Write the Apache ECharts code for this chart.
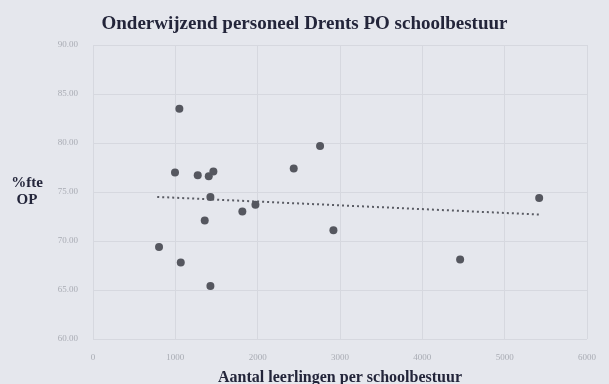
<!DOCTYPE html>
<html>
<head>
<meta charset="utf-8">
<script src="https://cdn.jsdelivr.net/npm/echarts@6/dist/echarts.min.js"></script>
<style>
  html, body { margin: 0; padding: 0; background: #e5e7ed; }
  #chart { width: 609px; height: 384px; }
</style>
</head>
<body>
<div id="chart"></div>
<script>
// Pupils per school board (x) and % fte teaching staff (y)
const leerlingen = [1049, 996, 1272, 1406, 1462, 1426, 1973, 1814, 1357, 802, 1066, 1426, 2438, 2758, 5419, 2920, 4459];
const fteOP      = [83.5, 77.0, 76.7, 76.6, 77.1, 74.5, 73.7, 73.0, 72.1, 69.4, 67.8, 65.4, 77.4, 79.7, 74.4, 71.1, 68.1];

// Linear trendline end points
const trendX = [780, 5420];
const trendY = [74.5, 72.7];

const xTicks = [0, 1000, 2000, 3000, 4000, 5000, 6000];
const yTicks = [60, 65, 70, 75, 80, 85, 90];

const points = leerlingen.map((x, i) => [x, fteOP[i]]);
const trend = trendX.map((x, i) => [x, trendY[i]]);

const serif = '"Liberation Serif", "DejaVu Serif", serif';
const dark = '#23253a';
const tickStyle = { color: '#a9acb4', fontFamily: serif, fontSize: 9 };

const chart = echarts.init(document.getElementById('chart'), null, { renderer: 'canvas' });
chart.setOption({
  backgroundColor: '#e5e7ed',
  animation: false,
  title: {
    text: 'Onderwijzend personeel Drents PO schoolbestuur',
    left: 'center',
    top: 10,
    textStyle: { fontFamily: serif, fontWeight: 'bold', fontSize: 19, color: dark }
  },
  grid: { left: 93, right: 22, top: 45, bottom: 45, outerBoundsMode: 'none', containLabel: false },
  xAxis: {
    type: 'value',
    min: xTicks[0],
    max: xTicks[xTicks.length - 1],
    interval: 1000,
    name: 'Aantal leerlingen per schoolbestuur',
    nameLocation: 'middle',
    nameGap: 31,
    nameTextStyle: { fontFamily: serif, fontWeight: 'bold', fontSize: 16, color: dark },
    axisLine: { show: false },
    axisTick: { show: false },
    axisLabel: Object.assign({ margin: 14, formatter: v => String(v) }, tickStyle),
    splitLine: { show: true, lineStyle: { color: '#d6d8df', width: 1 } }
  },
  yAxis: {
    type: 'value',
    min: yTicks[0],
    max: yTicks[yTicks.length - 1],
    interval: 5,
    axisLine: { show: false },
    axisTick: { show: false },
    axisLabel: Object.assign({ margin: 15, formatter: v => v.toFixed(2) }, tickStyle),
    splitLine: { show: true, lineStyle: { color: '#d6d8df', width: 1 } }
  },
  graphic: [{
    type: 'text',
    x: 27,
    y: 175,
    style: {
      text: '%fte\nOP',
      fontFamily: serif,
      fontWeight: 'bold',
      fontSize: 15,
      lineHeight: 17,
      fill: dark,
      align: 'center'
    }
  }],
  series: [
    {
      type: 'line',
      data: trend,
      symbol: 'none',
      lineStyle: { type: [2, 3], color: '#5a5c64', width: 2 },
      z: 2
    },
    {
      type: 'scatter',
      data: points,
      symbol: 'circle',
      symbolSize: 8,
      itemStyle: { color: '#55575f', opacity: 1 },
      z: 3
    }
  ]
});
</script>
</body>
</html>
